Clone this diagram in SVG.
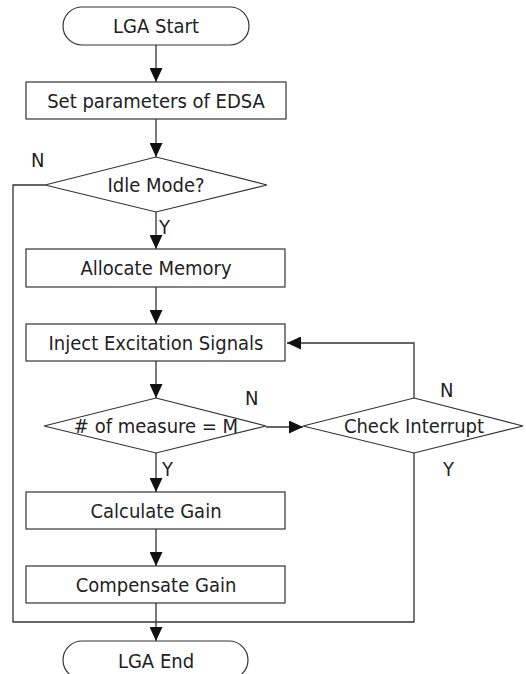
<svg xmlns="http://www.w3.org/2000/svg" width="526" height="674" viewBox="0 0 526 674">
<style>
.n{fill:#fff;stroke:#333;stroke-width:1.2}
.t{font-family:"DejaVu Sans Condensed","DejaVu Sans",Verdana,sans-serif;font-stretch:condensed;font-size:20px;fill:#222;text-anchor:middle}
.l{font-family:"DejaVu Sans Condensed","DejaVu Sans",Verdana,sans-serif;font-stretch:condensed;font-size:20px;fill:#222}
.c{fill:none;stroke:#333;stroke-width:1.3}
</style>
<defs>
<marker id="a" markerUnits="userSpaceOnUse" markerWidth="14" markerHeight="13" refX="14" refY="6.5" orient="auto">
<path d="M0,0 L14,6.5 L0,13 z" fill="#111"/>
</marker>
</defs>
<rect width="526" height="674" fill="#fff"/>
<g id="connectors">
<path class="c" d="M156,45 V82" marker-end="url(#a)"/>
<path class="c" d="M156,119 V157" marker-end="url(#a)"/>
<path class="c" d="M156,212 V249" marker-end="url(#a)"/>
<path class="c" d="M156,287 V324" marker-end="url(#a)"/>
<path class="c" d="M156,361 V398" marker-end="url(#a)"/>
<path class="c" d="M156,453 V492" marker-end="url(#a)"/>
<path class="c" d="M156,529 V566" marker-end="url(#a)"/>
<path class="c" d="M156,603 V641" marker-end="url(#a)"/>
<path class="c" d="M266,427 H303" marker-end="url(#a)"/>
<path class="c" d="M414,398 V343 H287" marker-end="url(#a)"/>
<path class="c" d="M414,453 V622 H13 V185 H45"/>
<text class="l" x="31" y="167">N</text>
<text class="l" x="159" y="234">Y</text>
<text class="l" x="245" y="405">N</text>
<text class="l" x="440" y="397">N</text>
<text class="l" x="162" y="476">Y</text>
<text class="l" x="443" y="476">Y</text>
</g>
<g id="start">
<rect class="n" x="63" y="7" width="186" height="38" rx="19"/>
<text class="t" x="156" y="33">LGA Start</text>
</g>
<g id="setParams">
<rect class="n" x="26" y="82" width="260" height="37"/>
<text class="t" x="156" y="108">Set parameters of EDSA</text>
</g>
<g id="idle">
<polygon class="n" points="156,157 267,185 156,212 45,185"/>
<text class="t" x="156" y="192">Idle Mode?</text>
</g>
<g id="allocate">
<rect class="n" x="26" y="249" width="259" height="38"/>
<text class="t" x="156" y="275">Allocate Memory</text>
</g>
<g id="inject">
<rect class="n" x="26" y="324" width="259" height="37"/>
<text class="t" x="156" y="350">Inject Excitation Signals</text>
</g>
<g id="measure">
<polygon class="n" points="156,398 266,426 156,453 44,426"/>
<text class="t" x="156" y="433"># of measure = M</text>
</g>
<g id="checkInterrupt">
<polygon class="n" points="414,398 523,426 414,453 303,426"/>
<text class="t" x="414" y="433">Check Interrupt</text>
</g>
<g id="calculate">
<rect class="n" x="26" y="492" width="259" height="37"/>
<text class="t" x="156" y="518">Calculate Gain</text>
</g>
<g id="compensate">
<rect class="n" x="26" y="566" width="259" height="37"/>
<text class="t" x="156" y="592">Compensate Gain</text>
</g>
<g id="end">
<rect class="n" x="63" y="641" width="185" height="38" rx="19"/>
<text class="t" x="156" y="668">LGA End</text>
</g>
</svg>
